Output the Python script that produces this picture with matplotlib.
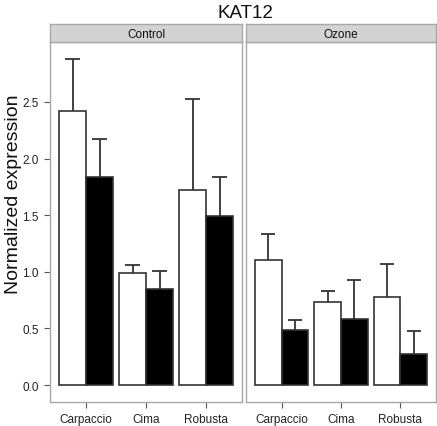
import matplotlib
matplotlib.use("Agg")
import matplotlib.pyplot as plt
import numpy as np

plt.rcParams["font.family"] = ["Liberation Sans", "DejaVu Sans"]

cultivars = ["Carpaccio", "Cima", "Robusta"]
panels = ["Control", "Ozone"]
white_vals = {"Control": [2.42, 0.99, 1.72], "Ozone": [1.10, 0.73, 0.78]}
white_err = {"Control": [0.46, 0.07, 0.81], "Ozone": [0.23, 0.10, 0.29]}
black_vals = {"Control": [1.84, 0.85, 1.49], "Ozone": [0.49, 0.58, 0.27]}
black_err = {"Control": [0.33, 0.16, 0.35], "Ozone": [0.08, 0.35, 0.21]}
yticks = [0.0, 0.5, 1.0, 1.5, 2.0, 2.5]

W, H = 437, 427
fig = plt.figure(figsize=(W/100, H/100), dpi=100)
fig.patch.set_facecolor("white")

def fx(px): return px / W
def fy(py): return 1 - py / H

panel_x = [(50, 242), (246, 436)]
top, bottom, strip_top = 43, 403, 25
edge = "#333333"
grid = "#A8A8A8"
bw = 0.45
cap = 0.12

for i, (p, (x0, x1)) in enumerate(zip(panels, panel_x)):
    ax = fig.add_axes([fx(x0), fy(bottom), fx(x1 - x0), fy(top) - fy(bottom)])
    x = np.arange(1, len(cultivars) + 1)
    wv, bv = np.array(white_vals[p]), np.array(black_vals[p])
    we, be = np.array(white_err[p]), np.array(black_err[p])
    for xs, v, e in [(x - bw/2, wv, we), (x + bw/2, bv, be)]:
        ax.vlines(xs, v, v + e, color=edge, linewidth=1.3, zorder=1)
        ax.hlines(v + e, xs - cap, xs + cap, color=edge, linewidth=1.3, zorder=1)
    ax.bar(x - bw/2, wv, width=bw, color="white", edgecolor=edge, linewidth=1.2, zorder=2)
    ax.bar(x + bw/2, bv, width=bw, color="black", edgecolor=edge, linewidth=1.2, zorder=2)
    ax.set_xlim(0.4, 3.6)
    ax.set_ylim(-0.15, 3.03)
    ax.set_xticks(x)
    ax.set_xticklabels(cultivars, fontsize=8.5, color="#222222")
    for s in ax.spines.values():
        s.set_color(grid)
        s.set_linewidth(1.0)
    ax.tick_params(axis="both", direction="out", length=4, color="#555555", width=0.8, pad=4)
    if i == 0:
        ax.set_yticks(yticks)
        ax.set_yticklabels([f"{v:.1f}" for v in yticks], fontsize=8.5, color="#222222")
    else:
        ax.set_yticks([])
    sax = fig.add_axes([fx(x0), fy(top), fx(x1 - x0), fy(strip_top) - fy(top)])
    sax.set_facecolor("#D3D3D3")
    sax.set_xticks([]); sax.set_yticks([])
    for s in sax.spines.values():
        s.set_color(grid)
        s.set_linewidth(1.0)
    sax.text(0.5, 0.45, p, ha="center", va="center", fontsize=8.5, color="#111111",
             transform=sax.transAxes)

fig.text(fx(14), fy(194), "Normalized expression", rotation=90, ha="center", va="center",
         fontsize=14, color="#111111")
fig.text(fx(245), fy(13), "KAT12", ha="center", va="center", fontsize=13.5, color="#111111")
fig.savefig("out.png", dpi=100)
